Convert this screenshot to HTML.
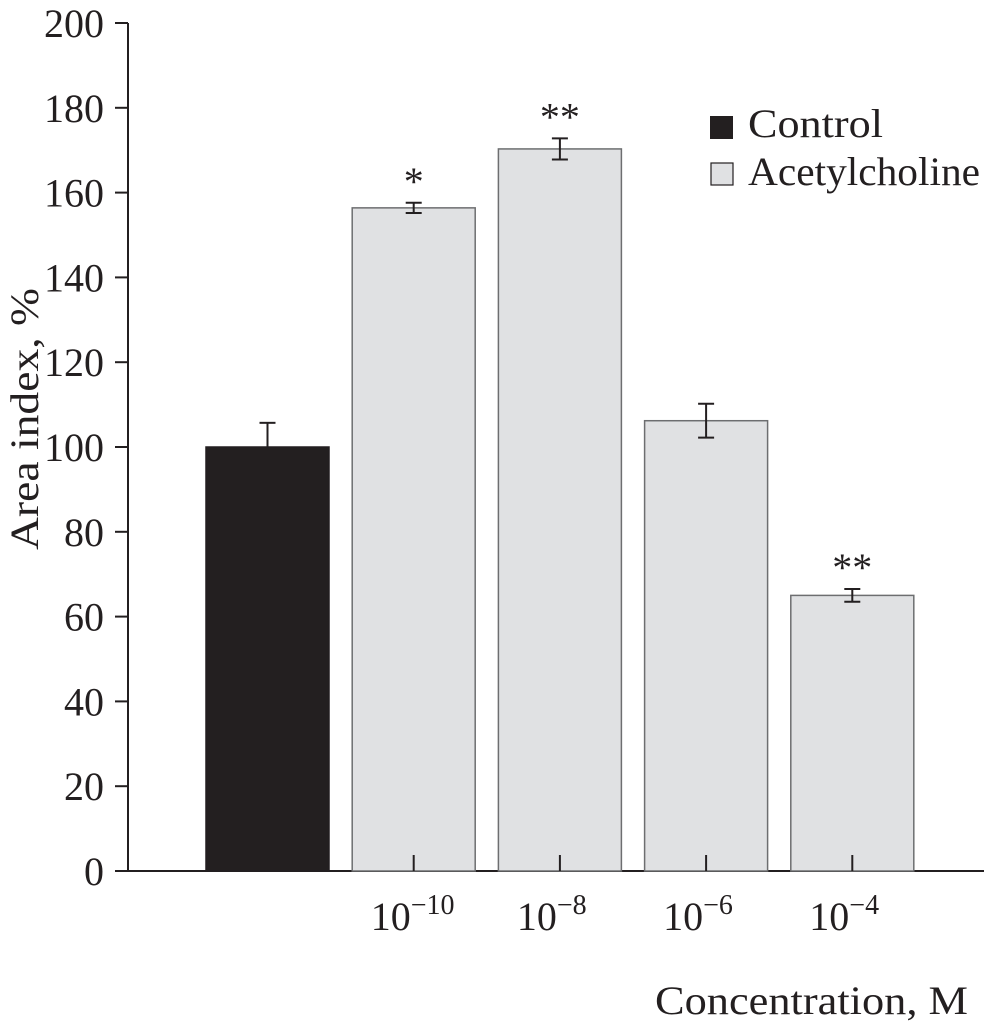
<!DOCTYPE html>
<html><head><meta charset="utf-8"><style>
html,body{margin:0;padding:0;background:#fff;}
svg text{font-family:"Liberation Serif",serif;fill:#231f20;}
</style></head><body>
<svg id="chart" width="984" height="1029" viewBox="0 0 984 1029" xmlns="http://www.w3.org/2000/svg">
<g id="axes"></g><g id="bars"></g>
<text x="0" y="0" font-size="40" text-anchor="middle" textLength="262" lengthAdjust="spacingAndGlyphs" transform="translate(38 419) rotate(-90)">Area index, %</text>
<text x="968" y="1014" font-size="40" text-anchor="end" textLength="313" lengthAdjust="spacingAndGlyphs">Concentration, M</text>
<g>
<rect x="710" y="116" width="23" height="23" fill="#231f20"/>
<text x="748" y="137" font-size="40" textLength="135" lengthAdjust="spacingAndGlyphs">Control</text>
<rect x="711" y="163" width="22" height="22" fill="#e0e1e3" stroke="#231f20" stroke-width="1.2"/>
<text x="748" y="185" font-size="40" textLength="232" lengthAdjust="spacingAndGlyphs">Acetylcholine</text>
</g>
</svg>
<script>
const categories=["Control","1e-10","1e-8","1e-6","1e-4"];
const exponents=["", "−10","−8","−6","−4"];
const values=[100,156.4,170.3,106.2,65];
const errors=[5.7,1.2,2.5,4,1.5];
const stars=["","*","**","","**"];
const yTicks=[0,20,40,60,80,100,120,140,160,180,200];
const NS="http://www.w3.org/2000/svg";
const y0=871,yTop=23,x0=128;
function y(v){return y0-(v/200)*(y0-yTop);}
function bx(i){return 206+i*146.2;}
const bw=123;
function mk(t,a,p){const e=document.createElementNS(NS,t);for(const k in a)e.setAttribute(k,a[k]);p.appendChild(e);return e;}
const ax=document.getElementById('axes'),bg=document.getElementById('bars');
const yl=mk('line',{x1:x0,y1:y(200),x2:x0,y2:y0,stroke:'#231f20','stroke-width':2},ax);


const xl=mk('line',{x1:115,y1:y0,x2:984,y2:y0,stroke:'#231f20','stroke-width':2},ax);


yTicks.forEach(v=>{
 const t=mk('line',{x1:115,y1:y(v),x2:x0,y2:y(v),stroke:'#231f20','stroke-width':2},ax);
 
 
 const l=mk('text',{x:104,y:y(v)+14,'font-size':40,'text-anchor':'end'},ax);
 l.textContent=v;
 
 
});
values.forEach((v,i)=>{
 const x=bx(i),c=x+bw/2,ctrl=i===0;
 const r=mk('rect',{x:x,y:y(v),width:bw,height:y0-y(v),fill:ctrl?'#231f20':'#e0e1e3',stroke:ctrl?'#231f20':'#6d6e70','stroke-width':1.5},bg);
 
 
 const e=errors[i];
 const lo=ctrl?v:v-e;
 const g=mk('g',{stroke:'#231f20','stroke-width':2},bg);
 
 
 mk('line',{x1:c,y1:y(v+e),x2:c,y2:y(lo)},g);
 mk('line',{x1:c-8,y1:y(v+e),x2:c+8,y2:y(v+e)},g);
 if(!ctrl)mk('line',{x1:c-8,y1:y(v-e),x2:c+8,y2:y(v-e)},g);
 if(!ctrl){
  const tk=mk('line',{x1:c,y1:y0-16,x2:c,y2:y0,stroke:'#231f20','stroke-width':2},bg);
  
  
  const l=mk('text',{x:c-43,y:930,'font-size':40},bg);
  
  
  l.textContent='10';
  const s=mk('tspan',{dy:-16,'font-size':28},l);s.textContent=exponents[i];
 }
 if(stars[i]){
  const s=mk('text',{x:c,y:y(v+e)-8,'font-size':40,'text-anchor':'middle'},bg);
  s.textContent=stars[i];
  
  
 }
});
</script>
</body></html>
